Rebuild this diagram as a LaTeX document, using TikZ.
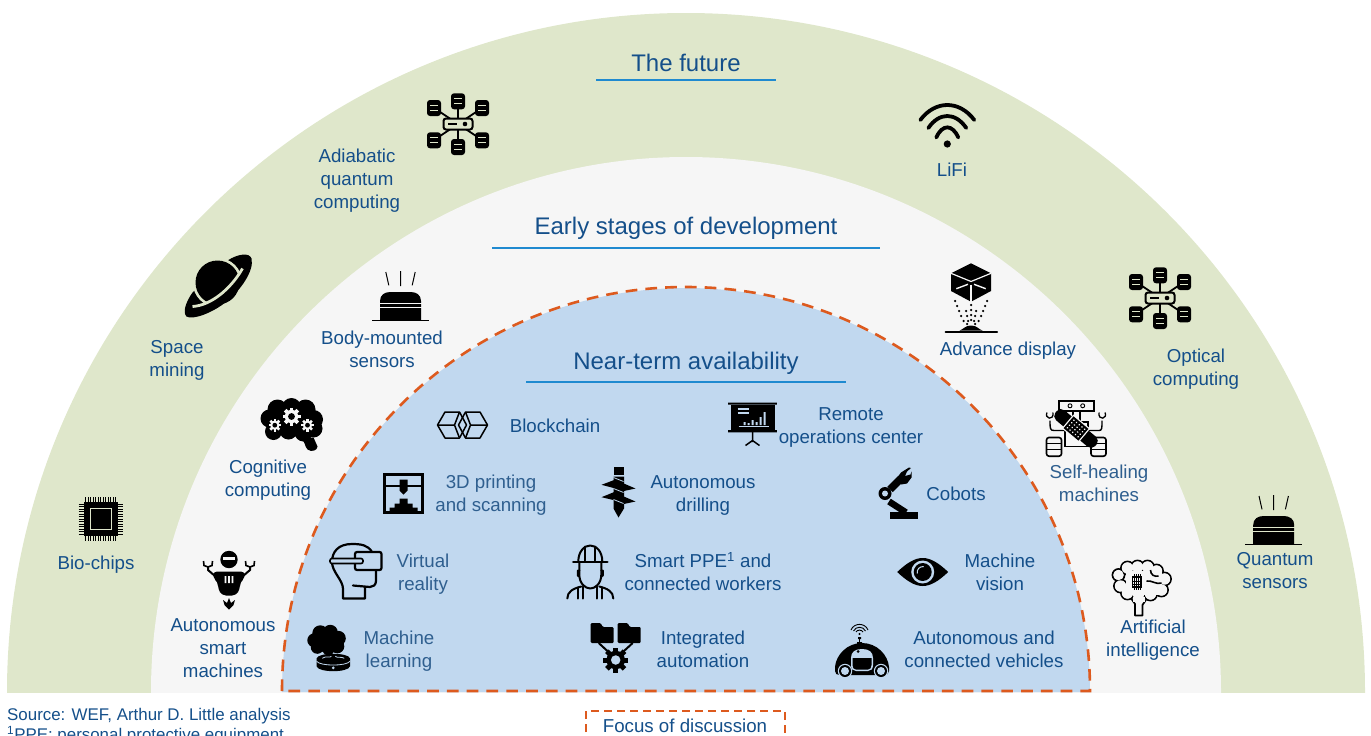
\documentclass[tikz,border=0pt]{standalone}
\usepackage{fontspec}
\setmainfont{Liberation Sans}
\definecolor{zgreen}{HTML}{DFE7CB}
\definecolor{zgray}{HTML}{F6F6F6}
\definecolor{zblue}{HTML}{C1D8EF}
\definecolor{zorange}{HTML}{DD5A1E}
\definecolor{zline}{HTML}{1F8AD0}
\definecolor{ztxt}{HTML}{144F8A}
\definecolor{zsoft}{HTML}{2F5F8F}
\colorlet{iconbg}{white}
\newcommand{\dbcyl}[2]{%
  \fill[black,rounded corners=3] ({#1-7},{#2-8}) rectangle ({#1+7},{#2+8});
  \draw[iconbg,line width=1] ({#1-3.8},{#2-2.6}) -- ({#1+3.8},{#2-2.6}) ({#1-3.8},{#2+2.6}) -- ({#1+3.8},{#2+2.6});
}
\newcommand{\gearshape}[5]{%
  \fill[#4] (#1,#2) circle ({0.74*#3});
  \foreach \ga in {0,45,...,315}{\fill[#4,shift={(#1,#2)},rotate=\ga] ({-0.2*#3},{0.6*#3}) rectangle ({0.2*#3},{#3});}
  \fill[#5] (#1,#2) circle ({0.38*#3});
}
\tikzset{
  iconcut/.code={\colorlet{iconbg}{#1}},
  lbl/.style={align=center,inner sep=0pt,text=ztxt,font=\fontsize{18.7}{23}\selectfont},
  softlbl/.style={lbl,text=zsoft},
  headlbl/.style={align=center,inner sep=0pt,text=ztxt,font=\fontsize{24}{28}\selectfont},
  footlbl/.style={anchor=west,inner sep=0pt,text=ztxt,font=\fontsize{16.9}{20}\selectfont},
  headrule/.style={zline,line width=1.5pt},
  pics/chipicon/.style={code={
    \foreach \i in {-15,-12.5,...,15}{
      \draw[black,line width=0.9] (\i,-22) -- (\i,22) (-22,\i) -- (22,\i);}
    \fill[black] (-17,-17) rectangle (17,17);
    \draw[iconbg,line width=0.7] (-10.5,-10.5) rectangle (10.5,10.5);
  }},
  pics/roboticon/.style={code={
    \fill[black] (0,-20.5) circle (8.7);
    \fill[iconbg] (-6,-23) rectangle (6,-20.2);
    \fill[black,rounded corners=4] (-16,-8.5) -- (16,-8.5) -- (16,-2) -- (11,2) -- (11,9) -- (7,15.5) -- (-7,15.5) -- (-11,9) -- (-11,2) -- (-16,-2) -- cycle;
    \fill[iconbg] (-4.4,-4) rectangle (-2.6,3) (-0.9,-4) rectangle (0.9,3) (2.6,-4) rectangle (4.4,3);
    \draw[black,line width=2] (-14,-4) -- (-21,-10) -- (-21,-14);
    \draw[black,line width=2] (14,-4) -- (21,-10) -- (21,-14);
    \draw[black,line width=1.6] (-25.5,-19) -- (-25,-14.5) -- (-21,-13) -- (-17,-14.5) -- (-16.5,-19);
    \draw[black,line width=1.6] (25.5,-19) -- (25,-14.5) -- (21,-13) -- (17,-14.5) -- (16.5,-19);
    \fill[black] (-6,20) -- (-2,23) -- (0,18) -- (2,23) -- (6,20) -- (4.5,25) -- (0,29.5) -- (-4.5,25) -- cycle;
  }},
  pics/mlicon/.style={code={
    \fill[black] (-14,-8) circle (7) (-8,-15) circle (8) (2,-16) circle (7.5) (10,-10) circle (7.5)
      (9,-2) circle (7) (-3,-6) circle (10) (-11,-1) circle (6.5) (0,1) circle (6);
    \fill[black] (-3,4) -- (4,4) -- (4,9) -- (10,11) -- (-3,11) -- (0,8) -- cycle;
    \fill[black] (-11.7,10) -- (-11.7,18) .. controls (-10,24.5) and (20,24.5) .. (21.7,18) -- (21.7,10) .. controls (20,4) and (-10,4) .. (-11.7,10) -- cycle;
    \draw[iconbg,line width=0.8] (-11.7,13) .. controls (-8,18) and (18,18) .. (21.7,13);
    \draw[iconbg,line width=0.8] (-6,10) .. controls (-2,7) and (2,10) .. (3,8) (7,8) .. controls (9,10) and (13,8) .. (16,10);
    \fill[iconbg] (5,19.5) circle (1.5);
  }},
  pics/vricon/.style={code={
    \draw[black,line width=2.2,line join=round,line cap=round]
      (16,-20) .. controls (12,-27) and (5,-28) .. (-4,-28) .. controls (-18,-28) and (-24,-20) .. (-24,-10)
      .. controls (-24,0) and (-13,8) .. (-13,17) -- (-13,26.5) -- (9,26.5) -- (9,15);
    \draw[black,line width=2.2,line join=round,line cap=round] (-3,13.5) -- (14,15) .. controls (17,15) and (20,13) .. (20,9) -- (20,-1.5);
    \draw[black,line width=2.2,rounded corners=2,fill=iconbg] (-1,-20) rectangle (25.5,-2);
    \draw[black,line width=1.6,rounded corners=2,fill=iconbg] (-26,-13.5) rectangle (7,-8.5);
  }},
  pics/printicon/.style={code={
    \draw[black,line width=3.2] (-19,-19) rectangle (19,19);
    \draw[black,line width=2] (-19,-8) -- (19,-8);
    \fill[black] (-4,-14) rectangle (4,-3) (-4,-3) -- (4,-3) -- (0,1) -- cycle;
    \fill[black] (-4,5) rectangle (4,10) (-9,10) rectangle (9,14) (-14,14) rectangle (14,19);
  }},
  pics/blockicon/.style={code={
    \draw[black,line width=1.5,line join=round] (-25,0) -- (-17.5,-13) -- (-3,-13) -- (4,0) -- (-3,13) -- (-17.5,13) -- cycle;
    \draw[black,line width=1.5,line join=round] (25,0) -- (17.5,-13) -- (3,-13) -- (-4,0) -- (3,13) -- (17.5,13) -- cycle;
    \draw[black,line width=1.5,line join=round] (3,-13) -- (8,0) -- (3,13) (8,0) -- (25,0);
    \draw[black,line width=1.5,line join=round] (-3,-13) -- (-8,0) -- (-3,13) (-8,0) -- (-25,0);
  }},
  pics/boardicon/.style={code={
    \fill[black] (-22,-20) rectangle (22,5);
    \fill[black] (-24.3,-22.5) rectangle (24.3,-20.5) (-24.3,5.2) rectangle (24.3,7.4);
    \draw[black,line width=1.5] (0,7) -- (0,17) (-7,20.5) -- (0,15.5) -- (7,20.5);
    \draw[iconbg,line width=1.1] (-15,-16) -- (-4,-16) (-15,-12) -- (-4,-12) (-14,1.5) -- (16,1.5);
    \fill[iconbg] (-9,-3) rectangle (-7,0) (-5,-2) rectangle (-3,0) (-1,-5) rectangle (1,0) (3,-3) rectangle (5,0) (7,-8) rectangle (9,0) (11,-13) rectangle (13,0);
  }},
  pics/drillicon/.style={code={
    \fill[black] (-4.5,-24.5) rectangle (5,-17);
    \fill[black] (-5,-15) rectangle (5.5,17) (-5,17) -- (5.5,17) -- (0,26) -- cycle;
    \fill[black] (-17,-6.7) -- (-3,-12) -- (-3,-3) -- cycle;
    \fill[black] (17,-3) -- (3,-9) -- (3,0) -- cycle;
    \fill[black] (-17,5.7) -- (-3,0) -- (-3,9) -- cycle;
    \fill[black] (17,10) -- (3,4) -- (3,13) -- cycle;
    \draw[iconbg,line width=0.8] (-5,-14) -- (5,-10) (-5,-3) -- (5,1) (-5,8) -- (5,12);
  }},
  pics/workericon/.style={code={
    \begin{scope}[line width=2,black,line cap=round,line join=round]
    \draw (-12,-10) .. controls (-12,-20) and (-6,-26) .. (0,-26) .. controls (6,-26) and (12,-20) .. (12,-10);
    \draw (-5,-25) -- (-5,-11) (5,-25) -- (5,-11);
    \draw[line width=2.8] (-17,-9.5) -- (17,-9.5);
    \draw (-11,-9) -- (-11,3) .. controls (-11,12) and (-5,17) .. (0,17) .. controls (5,17) and (11,12) .. (11,3) -- (11,-9);
    \draw (-11,-1) -- (-12.5,-1) -- (-12.5,4) -- (-11,5) (11,-1) -- (12.5,-1) -- (12.5,4) -- (11,5);
    \draw (-23,27) .. controls (-23,20) and (-17,17) .. (-9,15);
    \draw (23,27) .. controls (23,20) and (17,17) .. (9,15);
    \draw (-12,16) -- (-12,27) (-7,15) -- (-7,27) (7,15) -- (7,27) (12,16) -- (12,27);
    \end{scope}
  }},
  pics/autoicon/.style={code={
    \fill[black,rounded corners=1.2] (-25,-20) -- (-25,0) -- (-2,0) -- (-2,-16) -- (-13,-16) -- (-15,-20) -- cycle;
    \fill[black,rounded corners=1.2] (2,-20) -- (2,0) -- (25,0) -- (25,-16) -- (14,-16) -- (12,-20) -- cycle;
    \draw[black,line width=2] (-17,0) -- (-5,11) (17,0) -- (5,11);
    \gearshape{0}{17}{12.5}{black}{iconbg}
  }},
  pics/caricon/.style={code={
    \fill[black] (-27,17) .. controls (-26,5) and (-15,-7) .. (0,-7) .. controls (15,-7) and (26,5) .. (27,17) -- (27,21) .. controls (27,24) and (25,25) .. (22,25) -- (-22,25) .. controls (-25,25) and (-27,24) .. (-27,21) -- cycle;
    \fill[iconbg] (-11,8) .. controls (-11,2) and (-7,-1) .. (0,-1) .. controls (7,-1) and (11,2) .. (11,8) -- (11,15) .. controls (11,19) and (9,21) .. (6,21) -- (-6,21) .. controls (-9,21) and (-11,19) .. (-11,15) -- cycle;
    \fill[black] (-9.5,8) rectangle (9.5,15) (-9.5,15) .. controls (-9.5,18) and (-8,19.5) .. (-6,19.5) -- (6,19.5) .. controls (8,19.5) and (9.5,18) .. (9.5,15) -- cycle;
    \fill[black] (-4,1.5) circle (1.5);
    \fill[iconbg] (-17,21) circle (7.2) (19,21) circle (7.2);
    \fill[black] (-17,21) circle (6) (19,21) circle (6);
    \fill[iconbg] (-17,21) circle (4) (19,21) circle (4);
    \draw[black,line width=1.4] (-2.5,-13) -- (-2.5,-7);
    \fill[black] (-5,-8) rectangle (0,-6) (-4,-13) rectangle (-1,-11);
    \fill[black] (-2.5,-16) circle (1.1);
    \draw[black,line width=0.9] (-6,-18) .. controls (-5,-20.5) and (0,-20.5) .. (1,-18);
    \draw[black,line width=0.9] (-8.5,-19) .. controls (-6,-24) and (1,-24) .. (3.5,-19);
    \draw[black,line width=0.9] (-11,-20) .. controls (-8,-27.5) and (3,-27.5) .. (6,-20);
  }},
  pics/eyeicon/.style={code={
    \fill[black] (-25.5,0) .. controls (-16,-9) and (-8,-14) .. (0,-14) .. controls (8,-14) and (16,-9) .. (25.5,0) .. controls (16,9) and (8,14) .. (0,14) .. controls (-8,14) and (-16,9) .. (-25.5,0) -- cycle;
    \fill[iconbg] (0,0) circle (11.5);
    \fill[black] (0,0) circle (9);
    \draw[iconbg,line width=1] (-5.5,1.5) .. controls (-6,-3) and (-3,-5.5) .. (1,-5.5);
  }},
  pics/coboticon/.style={code={
    \fill[black] (-7.7,19.5) rectangle (20,26);
    \draw[black,line width=6.5] (-9,9) -- (8,20);
    \draw[black,line width=7.5] (-8,-3) -- (3,-14);
    \fill[black] (-13,1) circle (6.5);
    \fill[iconbg] (-13,1) circle (3);
    \fill[black] (0,-16) -- (3,-20) -- (11,-25) -- (13,-24.5) -- (9,-21) -- (7,-16.5) -- (12.5,-18) -- (13.5,-21) -- (13.5,-15) -- (9,-9) -- (3,-8) -- cycle;
  }},
  pics/healicon/.style={code={
    \draw[black,line width=1.4] (-17,-27.7) rectangle (18,-17.7);
    \draw[black,line width=0.9] (-6,-22.7) circle (2) (6.7,-22.7) circle (2);
    \draw[black,line width=1.4] (-11,-6.7) rectangle (12,18);
    \draw[black,line width=1.4] (-3,-17.7) -- (-3,-7) (4,-17.7) -- (4,-7);
    \foreach \sx in {-22,22.5}{
      \draw[black,line width=1.6,rounded corners=2.5] ({\sx-7.5},9) rectangle ({\sx+7.5},27.7);
      \draw[black,line width=1.3] ({\sx-7.5},15) -- ({\sx+7.5},15) ({\sx-7.5},21) -- ({\sx+7.5},21);}
    \draw[black,line width=1.4] (-11,2) -- (-22,2) .. controls (-26,2) and (-26,0) .. (-26,-8);
    \draw[black,line width=1.4] (12,2) -- (23,2) .. controls (26,2) and (26,0) .. (26,-8);
    \draw[black,line width=1.3] (-29,-16) .. controls (-32,-10) and (-22,-7) .. (-23,-16);
    \draw[black,line width=1.3] (23,-16) .. controls (22,-7) and (32,-10) .. (29,-16);
    \begin{scope}[rotate=-40]
      \fill[black,rounded corners=5.5] (-26,-6.5) rectangle (26,6.5);
      \fill[iconbg] (-11,-9) rectangle (11,9);
      \fill[black] (-9.7,-7.7) rectangle (9.7,7.7);
      \foreach \u in {-7,-3.5,0,3.5,7}{\foreach \v in {-5,-1.7,1.7,5}{\fill[iconbg] (\u,\v) circle (0.9);}}
    \end{scope}
  }},
  pics/brainicon/.style={code={
    \foreach \cx/\cy/\cr in {-23/-14/6,-21/-3/6.5,-14/4/6.5,-14/-21/6.5,-4/-22/6.5,6/-22/6.5,15/-18/6.5,23/-10/6.5,20/1/6.5,9/5/6.5,-3/5/6.5}{
      \draw[black,line width=1.8] (\cx,\cy) circle (\cr);}
    \foreach \cx/\cy/\cr in {-23/-14/6,-21/-3/6.5,-14/4/6.5,-14/-21/6.5,-4/-22/6.5,6/-22/6.5,15/-18/6.5,23/-10/6.5,20/1/6.5,9/5/6.5,-3/5/6.5}{
      \fill[iconbg] (\cx,\cy) circle (\cr-0.8);}
    \fill[iconbg] (-16,-18) rectangle (20,6);
    \draw[black,line width=1.7,fill=iconbg,line join=round] (-10,10) -- (-6.5,15) -- (-6.5,26.5) -- (1,26.5) -- (1,16) -- (5,10);
    \fill[iconbg] (-8.5,8) rectangle (3.5,13);
    \draw[black,line width=1.2] (-9,-12) rectangle (0,-2);
    \draw[black,line width=0.8] (-7.5,-15) -- (-7.5,1) (-5.5,-15) -- (-5.5,1) (-3.5,-15) -- (-3.5,1) (-1.5,-15) -- (-1.5,1);
    \draw[black,line width=1] (-9,-8) -- (0,-8) (-9,-5) -- (0,-5);
    \draw[black,line width=1.6] (9,-19) .. controls (9,-14) and (13,-12) .. (17,-13) (5,-8) .. controls (10,-9) and (15,-4) .. (20,-6);
  }},
  pics/sensoricon/.style={code={
    \draw[black,line width=1] (-14.7,-24) -- (-11.7,-10.7) (0,-25) -- (0,-10) (14.7,-24) -- (11.7,-10.7);
    \fill[black] (-20.5,24) -- (-20.5,5) .. controls (-20.5,-1) and (-16,-4) .. (-10,-4) -- (10,-4) .. controls (16,-4) and (20.5,-1) .. (20.5,5) -- (20.5,24) -- cycle;
    \draw[iconbg,line width=1] (-21,7.5) -- (21,7.5) (-21,11.7) -- (21,11.7);
    \draw[black,line width=1] (-28.5,24.5) -- (28.5,24.5);
  }},
  pics/cogcloudicon/.style={code={
    \fill[black] (-22,-6) circle (9) (-14,-15) circle (10) (0,-17) circle (9.5) (14,-15) circle (10) (22,-5) circle (9.5)
      (22,4) circle (9) (12,8) circle (9) (-3,6) circle (9) (-18,7) circle (8.5) (0,-3) circle (15);
    \fill[black] (9,14) -- (22,13) -- (26,22) .. controls (26,26) and (20,28) .. (16,25) .. controls (13,22) and (14,17) .. (9,14) -- cycle;
    \gearshape{0}{-8}{9}{iconbg}{black}
    \gearshape{-16.7}{0.7}{6.3}{iconbg}{black}
    \gearshape{16}{0.7}{6.3}{iconbg}{black}
  }},
  pics/saturnicon/.style={code={
    \fill[black] (-26,7) .. controls (-33,17) and (-36,27) .. (-32,31) .. controls (-26,35) and (-5,27) .. (8,16) .. controls (22,5) and (36,-15) .. (33,-27) .. controls (31,-33) and (20,-32) .. (9,-25) -- cycle;
    \begin{scope}
      \clip (-45,20) -- (-26,21) .. controls (-8,20) and (12,4) .. (24,-17) -- (45,-45) -- (-45,-45) -- cycle;
      \fill[iconbg] (-1,-3) circle (24.7);
    \end{scope}
    \fill[black] (-1,-3) circle (22);
    \draw[iconbg,line width=2.8] (-26,21) .. controls (-8,20) and (12,4) .. (24,-17);
  }},
  pics/neticon/.style={code={
    \draw[black,line width=1.8] (0,-22) -- (0,22) (-24,-16) -- (24,16) (-24,16) -- (24,-16);
    \dbcyl{0}{-22.7}\dbcyl{-24}{-16}\dbcyl{24}{-16}\dbcyl{-24}{16.3}\dbcyl{24}{16.3}\dbcyl{0}{23}
    \draw[black,line width=2,rounded corners=2.5,fill=iconbg] (-14.5,-5.5) rectangle (14.5,5.5);
    \draw[black,line width=1.6] (-10,0) -- (-1,0);
    \fill[black] (7,0) circle (2.3);
  }},
  pics/lifiicon/.style={code={
    \fill[black] (0,0) circle (3.6);
    \draw[black,line width=3.8,line cap=round] (-27,-24) .. controls (-12,-44) and (12,-44) .. (27,-24);
    \draw[black,line width=3.8,line cap=round] (-19,-16) .. controls (-8,-32) and (8,-32) .. (19,-16);
    \draw[black,line width=3.8,line cap=round] (-11,-6.5) .. controls (-5,-20) and (5,-20) .. (11,-6.5);
  }},
  pics/displayicon/.style={code={
    \fill[black] (0,-34.7) -- (20,-24.7) -- (20,-7) -- (0,3.7) -- (-20,-7) -- (-20,-24.7) -- cycle;
    \draw[iconbg,line width=1.2] (-20,-24.7) -- (0,-16.5) -- (20,-24.7);
    \draw[iconbg,line width=1.2] (0,-13.5) -- (0,4);
    \draw[iconbg,line width=1.4] (-14.7,-9.3) -- (-3,-13.7) (14.7,-9.3) -- (3,-13.7);
    \foreach \px/\py in {-16/3,-14/8,-12/13,-10/18,-7.5/23,-4/26,0/7,0/12,0/17,0/22,16/3,14/8,12/13,10/18,7.5/23,4/26,-5/13,-4/18,-3/23,5/13,4/18,3/23}{
      \fill[black] (\px,\py) circle (1.25);}
    \fill[black] (-11.5,32.5) .. controls (-7,31) and (-6,27.5) .. (0,27.5) .. controls (6,27.5) and (7,31) .. (11.5,32.5) -- cycle;
    \draw[black,line width=2,line cap=round] (-25.5,33.7) -- (26,33.7);
  }},
}
\begin{document}
\begin{tikzpicture}[x=1pt,y=-1pt]
\useasboundingbox (0,0) rectangle (1371,736);
\begin{scope}
  \clip (0,0) rectangle (1371,692);
  \fill[zgreen] (686,692) circle (679);
  \fill[zgray] (686,692) circle (535);
\end{scope}
\fill[zblue] (282,692) arc[start angle=180,end angle=360,radius=404] -- cycle;
\draw[zorange,line width=2.6pt,dash pattern=on 11.7pt off 8.1pt] (282,691) arc[start angle=180,end angle=360,radius=404] -- cycle;

% headings
\node[headlbl] (future) at (686,63) {The future};
\node[headlbl] (early) at (686,228) {Early stages of development};
\node[headlbl] (near) at (686,363) {Near-term availability};
\coordinate (fl) at (596,80); \coordinate (fr) at (776,80);
\coordinate (el) at (492,248); \coordinate (er) at (880,248);
\coordinate (nl) at (526,382); \coordinate (nr) at (846,382);
\draw[headrule] (fl) -- (fr);
\draw[headrule] (el) -- (er);
\draw[headrule] (nl) -- (nr);

% outer ring
\pic[iconcut=zgreen] at (458,124) {neticon};
\pic[iconcut=zgreen] at (947.3,144) {lifiicon};
\pic[iconcut=zgreen] at (218.5,285.5) {saturnicon};
\pic[iconcut=zgreen] at (1160,298) {neticon};
\pic[iconcut=zgreen] at (100.7,519) {chipicon};
\pic[iconcut=zgreen] at (1273.7,520) {sensoricon};
\node[lbl] (adia) at (357,181) {Adiabatic\\quantum\\computing};
\node[lbl] (lifi) at (952,170) {LiFi};
\node[lbl] (space) at (177,360.5) {Space\\mining};
\node[lbl] (optical) at (1196,369.5) {Optical\\computing};
\node[lbl] (bio) at (96,565) {Bio-chips};
\node[lbl] (quantum) at (1275,570.5) {Quantum\\sensors};

% middle ring
\pic[iconcut=zgray] at (400.5,296) {sensoricon};
\pic[iconcut=zgray] at (971,298) {displayicon};
\pic[iconcut=zgray] at (291.5,424.5) {cogcloudicon};
\pic[iconcut=zgray] at (1076,428.5) {healicon};
\pic[iconcut=zgray] at (229,580) {roboticon};
\pic[iconcut=zgray] at (1141.5,589) {brainicon};
\node[lbl] (body) at (382,349.5) {Body-mounted\\sensors};
\node[lbl] (advance) at (1008,351) {Advance display};
\node[lbl] (cog) at (268,480.5) {Cognitive\\computing};
\node[softlbl] (heal) at (1099,483.5) {Self-healing\\machines};
\node[lbl] (smart) at (223,648.5) {Autonomous\\smart\\machines};
\node[lbl] (ai) at (1153,640.5) {Artificial\\intelligence};

% inner zone
\pic[iconcut=zblue] at (462.5,425) {blockicon};
\pic[iconcut=zblue] at (752.5,425) {boardicon};
\pic[iconcut=zblue] at (403.5,493.5) {printicon};
\pic[iconcut=zblue] at (618.5,491.5) {drillicon};
\pic[iconcut=zblue] at (898,492.5) {coboticon};
\pic[iconcut=zblue] at (356,572) {vricon};
\pic[iconcut=zblue] at (590.3,571.5) {workericon};
\pic[iconcut=zblue] at (922.7,572) {eyeicon};
\pic[iconcut=zblue] at (328.3,648.3) {mlicon};
\pic[iconcut=zblue] at (615.7,643) {autoicon};
\pic[iconcut=zblue] at (862,650) {caricon};
\node[lbl] (block) at (555,426) {Blockchain};
\node[lbl] (remote) at (851,427.5) {Remote\\operations center};
\node[softlbl] (print) at (491,495.5) {3D printing\\and scanning};
\node[lbl] (drill) at (703,495.5) {Autonomous\\drilling};
\node[lbl] (cobots) at (956,494) {Cobots};
\node[softlbl] (vr) at (423,574.5) {Virtual\\reality};
\node[lbl] (ppe) at (703,571.5) {Smart PPE\textsuperscript{1} and\\connected workers};
\node[lbl] (vision) at (1000,572.5) {Machine\\vision};
\node[softlbl] (ml) at (399,651.5) {Machine\\learning};
\node[lbl] (integ) at (703,649.5) {Integrated\\automation};
\node[lbl] (vehicles) at (984,649.5) {Autonomous and\\connected vehicles};

% footer
\begin{scope}
  \clip (0,0) rectangle (1371,736);
  \node[footlbl] (source) at (7,716) {Source: WEF, Arthur D. Little analysis};
  \node[footlbl] (ppefoot) at (7,735) {\textsuperscript{1}PPE: personal protective equipment};
  \draw[zorange,line width=1.5pt,dash pattern=on 8pt off 5pt] (586,745) -- (586,711) -- (785,711) -- (785,745);
  \node[lbl] (focus) at (685,726) {Focus of discussion};
\end{scope}
\end{tikzpicture}
\end{document}
